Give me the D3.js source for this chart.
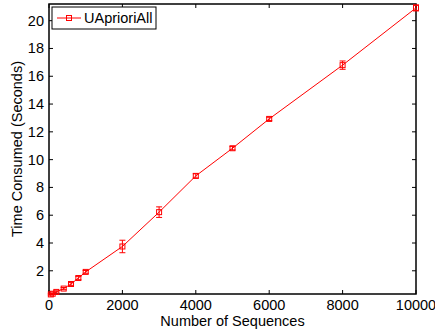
<!DOCTYPE html>
<html>
<head>
<meta charset="utf-8">
<script src="https://cdn.jsdelivr.net/npm/d3@7"></script>
<style>
  body { margin: 0; background: #fff; }
  text { font-family: "Liberation Sans", Arial, sans-serif; }
</style>
</head>
<body>
<div id="chart"></div>
<script>
// Values
const sequences = [50, 100, 200, 400, 600, 800, 1000, 2000, 3000, 4000, 5000, 6000, 8000, 10000];
const timeMean  = [0.30, 0.35, 0.48, 0.72, 1.05, 1.48, 1.92, 3.75, 6.22, 8.83, 10.82, 12.93, 16.8, 20.92];
const timeErr   = [0.05, 0.05, 0.08, 0.08, 0.10, 0.12, 0.10, 0.45, 0.38, 0.15, 0.12, 0.12, 0.30, 0.22];
const xTicks = [0, 2000, 4000, 6000, 8000, 10000];
const yTicks = [2, 4, 6, 8, 10, 12, 14, 16, 18, 20];
const seriesName = "UAprioriAll";

const width = 435, height = 334;
const margin = {top: 4, right: 19, bottom: 40, left: 49};
const red = "#ff0000";
const fs = "14.5px";

const svg = d3.select("#chart").append("svg")
    .attr("width", width)
    .attr("height", height);

const x = d3.scaleLinear()
    .domain([0, 10000])
    .range([margin.left, width - margin.right]);

const y = d3.scaleLinear()
    .domain([0.33, 21.2])
    .range([height - margin.bottom, margin.top]);

const x0 = margin.left, x1 = width - margin.right;
const y0 = height - margin.bottom, y1 = margin.top;

// Ticks pointing inward, on all four sides (matlab box)
const tickLen = 4;
const axes = svg.append("g").attr("stroke", "#000").attr("stroke-width", 1);
xTicks.forEach(t => {
    axes.append("line").attr("x1", x(t)).attr("x2", x(t)).attr("y1", y0).attr("y2", y0 - tickLen);
    axes.append("line").attr("x1", x(t)).attr("x2", x(t)).attr("y1", y1).attr("y2", y1 + tickLen);
});
yTicks.forEach(t => {
    axes.append("line").attr("x1", x0).attr("x2", x0 + tickLen).attr("y1", y(t)).attr("y2", y(t));
    axes.append("line").attr("x1", x1).attr("x2", x1 - tickLen).attr("y1", y(t)).attr("y2", y(t));
});

svg.append("rect")
    .attr("x", x0).attr("y", y1)
    .attr("width", x1 - x0).attr("height", y0 - y1)
    .attr("fill", "none")
    .attr("stroke", "#000")
    .attr("stroke-width", 1.5);

// tick labels
svg.append("g").selectAll("text")
    .data(xTicks).enter().append("text")
    .attr("x", d => x(d))
    .attr("y", y0 + 16)
    .attr("text-anchor", "middle")
    .attr("font-size", fs)
    .text(d => d);

svg.append("g").selectAll("text")
    .data(yTicks).enter().append("text")
    .attr("x", x0 - 5)
    .attr("y", d => y(d) + 5)
    .attr("text-anchor", "end")
    .attr("font-size", fs)
    .text(d => d);

// axis titles
svg.append("text")
    .attr("x", (x0 + x1) / 2)
    .attr("y", 326)
    .attr("text-anchor", "middle")
    .attr("font-size", fs)
    .text("Number of Sequences");

svg.append("text")
    .attr("transform", `translate(22, ${(y0 + y1) / 2}) rotate(-90)`)
    .attr("text-anchor", "middle")
    .attr("font-size", fs)
    .text("Time Consumed (Seconds)");

const data = sequences.map((s, i) => ({x: s, y: timeMean[i], e: timeErr[i]}));

// the line
const line = d3.line().x(d => x(d.x)).y(d => y(d.y));
svg.append("path")
    .datum(data)
    .attr("fill", "none")
    .attr("stroke", red)
    .attr("stroke-width", 1)
    .attr("d", line);

// error bars
const cap = 3;
const eb = svg.append("g").attr("stroke", red).attr("stroke-width", 1);
data.forEach(d => {
    const cx = x(d.x), top = y(d.y + d.e), bot = y(d.y - d.e);
    eb.append("line").attr("x1", cx).attr("x2", cx).attr("y1", top).attr("y2", bot);
    eb.append("line").attr("x1", cx - cap).attr("x2", cx + cap).attr("y1", top).attr("y2", top);
    eb.append("line").attr("x1", cx - cap).attr("x2", cx + cap).attr("y1", bot).attr("y2", bot);
});

// square markers
const ms = 5;
svg.append("g").selectAll("rect")
    .data(data).enter().append("rect")
    .attr("x", d => x(d.x) - ms / 2)
    .attr("y", d => y(d.y) - ms / 2)
    .attr("width", ms).attr("height", ms)
    .attr("fill", "none")
    .attr("stroke", red)
    .attr("stroke-width", 1);

// legend
const lg = svg.append("g");
lg.append("rect")
    .attr("x", 52).attr("y", 7)
    .attr("width", 104).attr("height", 22)
    .attr("fill", "#fff")
    .attr("stroke", "#000")
    .attr("stroke-width", 1);
lg.append("line")
    .attr("x1", 57).attr("x2", 81).attr("y1", 18).attr("y2", 18)
    .attr("stroke", red).attr("stroke-width", 1);
lg.append("rect")
    .attr("x", 69 - ms / 2).attr("y", 18 - ms / 2)
    .attr("width", ms).attr("height", ms)
    .attr("fill", "none").attr("stroke", red);
lg.append("text")
    .attr("x", 84).attr("y", 23)
    .attr("font-size", fs)
    .text(seriesName);
</script>
</body>
</html>
